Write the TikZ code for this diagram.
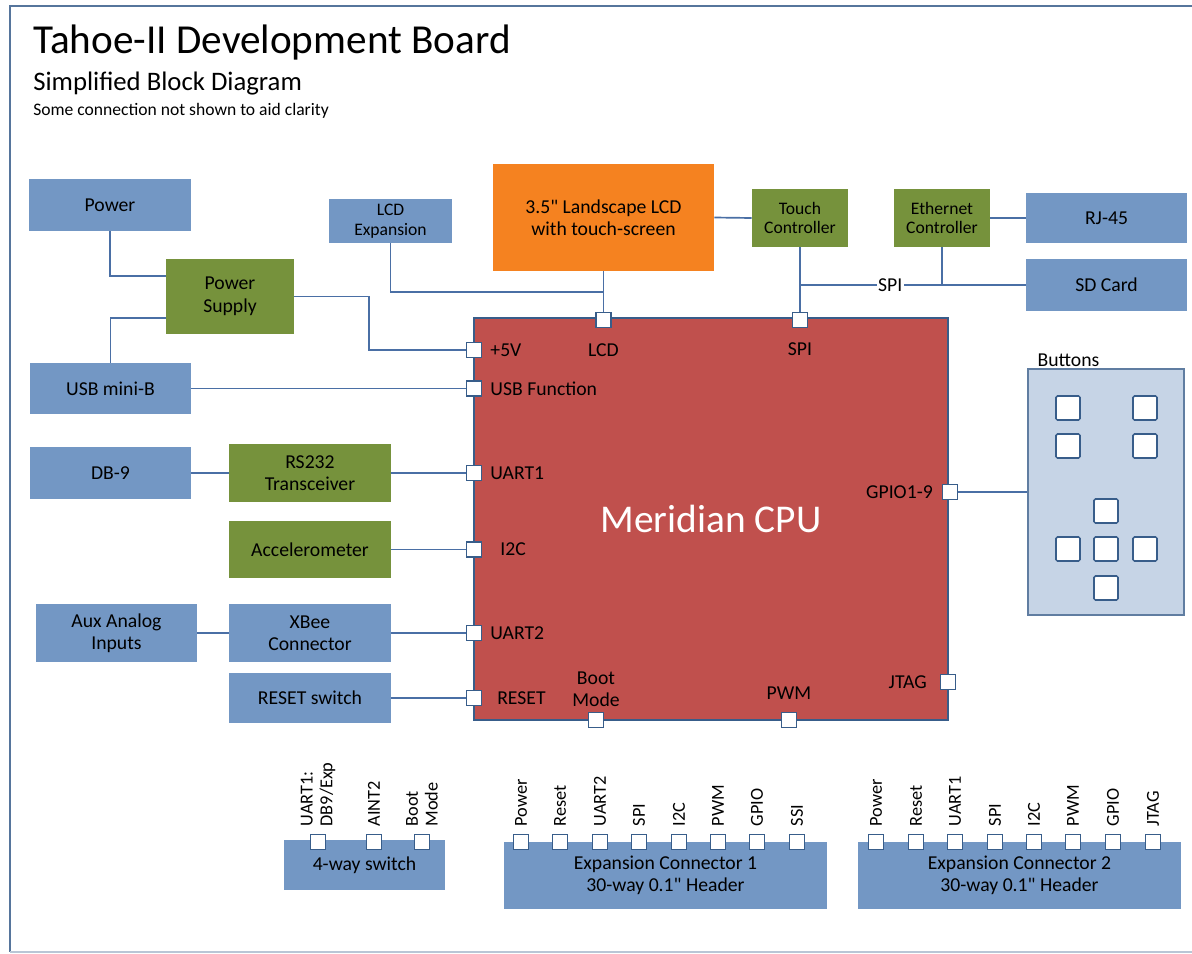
\documentclass[tikz,border=0pt]{standalone}
\usepackage{fontspec}
\setmainfont{Carlito}[Ligatures=TeXOff]
\usetikzlibrary{positioning}

\definecolor{blockblue}{HTML}{7397C4}
\definecolor{blockgreen}{HTML}{76923C}
\definecolor{lcdorange}{HTML}{F58220}
\definecolor{cpured}{HTML}{C0504D}
\definecolor{wireblue}{HTML}{4A6FA5}
\definecolor{panelblue}{HTML}{C6D4E6}
\definecolor{edgeblue}{HTML}{385D8A}

\begin{document}
\begin{tikzpicture}[x=0.025cm, y=-0.025cm, font=\fontsize{14}{16}\selectfont,
    blk/.style={fill=blockblue, align=center, inner sep=1pt},
    ctl/.style={fill=blockgreen, align=center, inner sep=1pt},
    small/.style={font=\fontsize{12.5}{14}\selectfont},
    wire/.style={draw=wireblue, line width=1.2pt},
    port/.style={draw=edgeblue, fill=white, line width=1.1pt, minimum size=0.37cm, inner sep=0},
    plbl/.style={inner sep=0, align=center},
    pinlbl/.style={rotate=90, anchor=west, inner sep=0, align=left, font=\fontsize{13}{14}\selectfont},
    btn/.style={draw=edgeblue, fill=white, line width=1.1pt, minimum size=0.6cm, rounded corners=1pt}]
    \useasboundingbox (0,0) rectangle (1192,954);
    % frame
    \draw[edgeblue!85, line width=2pt] (1192,6) -- (10,6) -- (10,952);
    \draw[edgeblue!35, line width=1pt] (10,952) -- (1192,952);
    \node[anchor=base west, inner sep=0, font=\fontsize{29.3}{32}\selectfont] (title) at (33,53) {Tahoe-II Development Board};
    \node[anchor=base west, inner sep=0, font=\fontsize{19}{21}\selectfont] (subtitle) at (33,90) {Simplified Block Diagram};
    \node[anchor=base west, inner sep=0, font=\fontsize{12.5}{14}\selectfont] (note) at (33,115) {Some connection not shown to aid clarity};

    % cpu and its ports
    \node[fill=cpured, draw=edgeblue, line width=1pt, minimum width=11.85cm, minimum height=10.05cm, text=white, font=\fontsize{28}{30}\selectfont] (cpu) at (711,519) {Meridian CPU};
    \node[port] (p5v) at (474,350) {};
    \node[port] (pusb) at (474,388.5) {};
    \node[port] (puart1) at (474,473) {};
    \node[port] (pi2c) at (474,549.5) {};
    \node[port] (puart2) at (474,633) {};
    \node[port] (preset) at (474,698) {};
    \node[port] (plcd) at (603.5,320) {};
    \node[port] (pspi) at (800,320) {};
    \node[port] (pboot) at (596,720) {};
    \node[port] (ppwm) at (789,720) {};
    \node[port] (pgpio) at (950,492) {};
    \node[port] (pjtag) at (948,682) {};
    \node[plbl, right=0.2cm of p5v] (l5v) {+5V};
    \node[plbl, right=0.2cm of pusb] (lusb) {USB Function};
    \node[plbl, right=0.2cm of puart1] (luart1) {UART1};
    \node[plbl, right=0.45cm of pi2c] (li2c) {I2C};
    \node[plbl, right=0.2cm of puart2] (luart2) {UART2};
    \node[plbl, right=0.37cm of preset] (lreset) {RESET};
    \node[plbl, below=0.38cm of plcd] (llcd) {LCD};
    \node[plbl, below=0.35cm of pspi] (lspi) {SPI};
    \node[plbl, above=0.12cm of pboot] (lboot) {Boot\\Mode};
    \node[plbl, above=0.3cm of ppwm] (lpwm) {PWM};
    \node[plbl, left=0.22cm of pgpio] (lgpio) {GPIO1-9};
    \node[plbl, left=0.32cm of pjtag] (ljtag) {JTAG};

    % left side blocks
    \node[blk, minimum width=4.03cm, minimum height=1.28cm] (pwr) at (110,205) {Power};
    \node[ctl, minimum width=3.2cm, minimum height=1.88cm] (ps) at (230,296.5) {Power\\Supply};
    \node[blk, minimum width=4.03cm, minimum height=1.28cm] (usb) at (110.5,388.5) {USB mini-B};
    \node[blk, minimum width=4.03cm, minimum height=1.28cm] (db9) at (110.5,473) {DB-9};
    \node[ctl, minimum width=4.05cm, minimum height=1.45cm] (rs232) at (310,473) {RS232\\Transceiver};
    \node[ctl, minimum width=4.05cm, minimum height=1.43cm] (accel) at (310,549.5) {Accelerometer};
    \node[blk, minimum width=4.03cm, minimum height=1.45cm] (aux) at (116.5,633) {Aux Analog\\Inputs};
    \node[blk, minimum width=4.05cm, minimum height=1.45cm] (xbee) at (310,633) {XBee\\Connector};
    \node[blk, minimum width=4.05cm, minimum height=1.25cm] (rstsw) at (310,698) {RESET switch};

    % top blocks
    \node[blk, small, minimum width=3.08cm, minimum height=1.1cm] (lcdx) at (390.5,221) {LCD\\Expansion};
    \node[fill=lcdorange, align=center, minimum width=5.53cm, minimum height=2.68cm] (lcd) at (603.5,217.5) {3.5" Landscape LCD\\with touch-screen};
    \node[ctl, small, minimum width=2.4cm, minimum height=1.45cm] (tc) at (800,218) {Touch\\Controller};
    \node[ctl, small, minimum width=2.4cm, minimum height=1.45cm] (eth) at (942,218) {Ethernet\\Controller};
    \node[blk, minimum width=4.03cm, minimum height=1.25cm] (rj45) at (1106.5,218) {RJ-45};
    \node[blk, minimum width=4.03cm, minimum height=1.28cm] (sd) at (1106.5,285) {SD Card};

    % buttons
    \node[fill=panelblue, draw=edgeblue!80, line width=1pt, minimum width=3.9cm, minimum height=6.15cm] (btns) at (1106,492) {};
    \node[anchor=south west, inner sep=0] (btnlbl) at ([xshift=0.25cm, yshift=0.03cm]btns.north west) {Buttons};
    \foreach \x/\y [count=\k] in {1068/408,1145/408,1068/446,1145/446,1106/511,1068/549,1106/549,1145/549,1106/588}
        \node[btn] (b\k) at (\x,\y) {};

    % connections
    \coordinate (psin1) at (166,276);
    \coordinate (psin2) at (166,318);
    \coordinate (psbend) at (369,296.5);
    \coordinate (lcdjoin) at (603.5,292);
    \coordinate (spijoin) at (800,285);
    \draw[wire] (pwr.south) |- (psin1);
    \draw[wire] (usb.north) |- (psin2);
    \draw[wire] (ps.east) -- (psbend) |- (p5v.west);
    \draw[wire] (usb.east) -- (pusb.west);
    \draw[wire] (db9.east) -- (rs232.west);
    \draw[wire] (rs232.east) -- (puart1.west);
    \draw[wire] (accel.east) -- (pi2c.west);
    \draw[wire] (aux.east) -- (xbee.west);
    \draw[wire] (xbee.east) -- (puart2.west);
    \draw[wire] (rstsw.east) -- (preset.west);
    \draw[wire] (lcdx.south) |- (lcdjoin);
    \draw[wire] (lcd.south) -- (plcd.north);
    \draw[wire] (lcd.east) -- (tc.west);
    \draw[wire] (tc.south) -- (pspi.north);
    \draw[wire] (spijoin) -- node[pos=0.4, fill=white, inner sep=1pt] (spibus) {SPI} (sd.west);
    \draw[wire] (eth.south) -- (eth.south |- spijoin);
    \draw[wire] (eth.east) -- (rj45.west);
    \draw[wire] (pgpio.east) -- (btns.west);

    % bottom connectors
    \node[blk, minimum width=4.03cm, minimum height=1.25cm] (sw4) at (364.5,865) {4-way switch};
    \node[blk, minimum width=8.08cm, minimum height=1.68cm] (exp1) at (665.5,875.5) {Expansion Connector 1\\30-way 0.1" Header};
    \node[blk, minimum width=8.08cm, minimum height=1.68cm] (exp2) at (1019.5,875.5) {Expansion Connector 2\\30-way 0.1" Header};
    \foreach \x/\name in {318/{UART1:\\DB9/Exp},374/AINT2,422/{Boot\\Mode}}{
        \node[port] (sp\x) at (\x,842) {};
        \node[pinlbl] (spl\x) at ([yshift=0.18cm]sp\x.north) {\name};}
    \foreach \x/\name in {521/Power,560/Reset,600/UART2,639/SPI,679/I2C,718/PWM,757/GPIO,797/SSI}{
        \node[port] (ea\x) at (\x,842) {};
        \node[pinlbl] (eal\x) at ([yshift=0.18cm]ea\x.north) {\name};}
    \foreach \x/\name in {876/Power,916/Reset,955/UART1,995/SPI,1034/I2C,1073/PWM,1113/GPIO,1153/JTAG}{
        \node[port] (eb\x) at (\x,842) {};
        \node[pinlbl] (ebl\x) at ([yshift=0.18cm]eb\x.north) {\name};}
\end{tikzpicture}
\end{document}
